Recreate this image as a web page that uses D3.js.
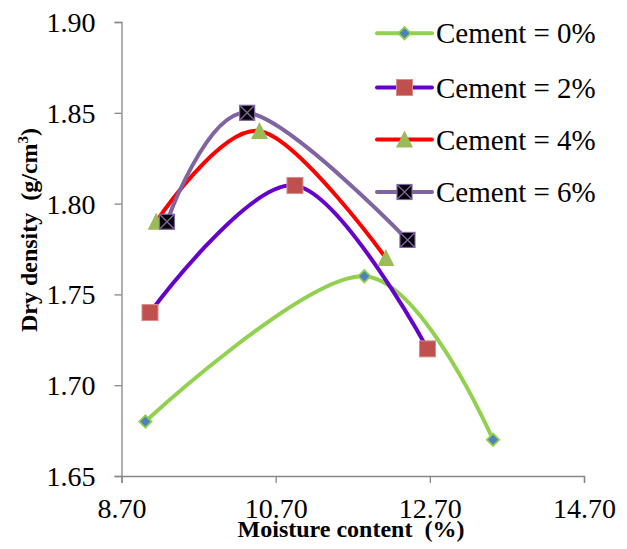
<!DOCTYPE html>
<html>
<head>
<meta charset="utf-8">
<script src="https://cdn.jsdelivr.net/npm/d3@7"></script>
<style>
  body { margin: 0; background: #fff; }
  text { font-family: "Liberation Serif", "Times New Roman", serif; white-space: pre; }
</style>
</head>
<body>
<div id="vis"></div>
<script>
// values
var seriesNames = ["Cement = 0%", "Cement = 2%", "Cement = 4%", "Cement = 6%"];
var moisture0 = [9.01, 11.85, 13.52];
var density0  = [1.68, 1.76, 1.67];
var moisture2 = [9.07, 10.95, 12.67];
var density2  = [1.74, 1.81, 1.72];
var moisture4 = [9.15, 10.49, 12.13];
var density4  = [1.79, 1.84, 1.77];
var moisture6 = [9.29, 10.33, 12.41];
var density6  = [1.79, 1.85, 1.78];
var xTicks = [8.70, 10.70, 12.70, 14.70];
var yTicks = [1.65, 1.70, 1.75, 1.80, 1.85, 1.90];

var W = 627, H = 549;
var margin = {top: 22, right: 43, bottom: 73, left: 121.5},
    width = W - margin.left - margin.right,
    height = H - margin.top - margin.bottom;

var svg = d3.select("#vis").append("svg")
    .attr("width", W)
    .attr("height", H);
var g = svg.append("g")
    .attr("transform", "translate(" + margin.left + "," + margin.top + ")");

var x = d3.scaleLinear().domain([8.70, 14.70]).range([0, width]);
var y = d3.scaleLinear().domain([1.65, 1.90]).range([height, 0]);

var axisColor = "#868686";

// axes
var xAxis = g.append("g")
    .attr("transform", "translate(0," + height + ")")
    .call(d3.axisBottom(x).tickValues(xTicks).tickFormat(d3.format(".2f")).tickSize(7).tickPadding(15));
var yAxis = g.append("g")
    .call(d3.axisLeft(y).tickValues(yTicks).tickFormat(d3.format(".2f")).tickSize(7).tickPadding(19));

[xAxis, yAxis].forEach(function(a) {
  a.select(".domain").attr("stroke", axisColor).attr("stroke-width", 1.3);
  a.selectAll(".tick line").attr("stroke", axisColor).attr("stroke-width", 1.3);
  a.selectAll(".tick text")
    .attr("fill", "#000")
    .style("font-family", "'Liberation Serif', 'Times New Roman', serif")
    .style("font-size", "28px");
});
yAxis.selectAll(".tick text").attr("dy", "0.34em");

// axis titles
svg.append("text")
    .attr("x", 351).attr("y", 537)
    .attr("text-anchor", "middle")
    .style("font-size", "24px").style("font-weight", "bold")
    .text("Moisture content  (%)");

var yt = svg.append("text")
    .attr("transform", "translate(37,230) rotate(-90)")
    .attr("text-anchor", "middle")
    .style("font-size", "24px").style("font-weight", "bold");
yt.append("tspan").text("Dry density  (g/cm");
yt.append("tspan").attr("dy", -9).style("font-size", "15px").text("3");
yt.append("tspan").attr("dy", 9).text(")");

var series = [
  {name: seriesNames[0], xs: moisture0, ys: density0, line: "#92D050", marker: "diamond"},
  {name: seriesNames[1], xs: moisture2, ys: density2, line: "#6600CC", marker: "square"},
  {name: seriesNames[2], xs: moisture4, ys: density4, line: "#FF0000", marker: "triangle"},
  {name: seriesNames[3], xs: moisture6, ys: density6, line: "#8064A2", marker: "xsquare"}
];

var line = d3.line()
    .x(function(d) { return x(d[0]); })
    .y(function(d) { return y(d[1]); })
    .curve(d3.curveCardinal.tension(0));

// draw a marker at (cx, cy)
function drawMarker(sel, type, cx, cy) {
  var m = sel.append("g").attr("transform", "translate(" + cx + "," + cy + ")");
  if (type == "diamond") {
    m.append("path")
      .attr("d", d3.symbol().type(d3.symbolSquare).size(78)())
      .attr("transform", "rotate(45)")
      .attr("fill", "#4F81BD").attr("stroke", "#92D050").attr("stroke-width", 1.8);
  } else if (type == "square") {
    m.append("rect").attr("x", -8).attr("y", -8).attr("width", 16).attr("height", 16)
      .attr("fill", "#C0504D").attr("stroke", "#D98C8A").attr("stroke-width", 1);
  } else if (type == "triangle") {
    m.append("path")
      .attr("d", "M0,-9L8.5,8L-8.5,8Z")
      .attr("fill", "#9BBB59");
  } else {
    m.append("rect").attr("x", -7.5).attr("y", -7.5).attr("width", 15).attr("height", 15)
      .attr("fill", "#000").attr("stroke", "#8064A2").attr("stroke-width", 1.2);
    m.append("path").attr("d", "M-7,-7L7,7M7,-7L-7,7")
      .attr("stroke", "#8064A2").attr("stroke-width", 1.4);
  }
}

series.forEach(function(s) {
  var pts = s.xs.map(function(v, i) { return [v, s.ys[i]]; });
  g.append("path")
    .datum(pts)
    .attr("fill", "none")
    .attr("stroke", s.line)
    .attr("stroke-width", 4)
    .attr("stroke-linecap", "round")
    .attr("d", line);
  s.pts = pts;
});

series.forEach(function(s) {
  s.pts.forEach(function(p) { drawMarker(g, s.marker, x(p[0]), y(p[1])); });
});

// legend
var legend = svg.append("g");
var legendY = [33.3, 87.5, 139.5, 192];
series.forEach(function(s, i) {
  var row = legend.append("g").attr("transform", "translate(0," + legendY[i] + ")");
  row.append("line").attr("x1", 377).attr("x2", 432).attr("y1", 0).attr("y2", 0)
    .attr("stroke", s.line).attr("stroke-width", 4).attr("stroke-linecap", "round");
  drawMarker(row, s.marker, 404.5, 0);
  row.append("text").attr("x", 436).attr("y", 10)
    .style("font-size", "29px")
    .text(s.name);
});
</script>
</body>
</html>
